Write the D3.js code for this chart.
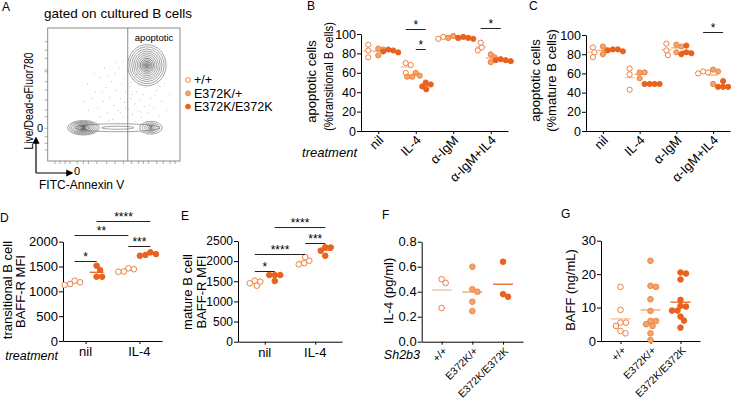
<!DOCTYPE html>
<html>
<head>
<meta charset="utf-8">
<script src="https://cdn.jsdelivr.net/npm/d3@7"></script>
<style>
  body { margin: 0; background: #fff; }
  svg { font-family: "Liberation Sans", Arial, sans-serif; }
</style>
</head>
<body>
<svg id="fig" width="732" height="400"></svg>
<script>
// ---- data ----
var genotypes = ["+/+", "E372K/+", "E372K/E372K"];
var treat4 = ["nil", "IL-4", "α-IgM", "α-IgM+IL4"];
var treat2 = ["nil", "IL-4"];

// B: % apoptotic transitional B cells, one array per treatment
var bWT  = [[89, 83, 76], [70, 68, 60], [97, 96, 95], [91, 86, 83]];
var bHet = [[85, 84, 78], [60, 57, 56, 56], [98, 96, 96], [79, 76, 71]];
var bHom = [[84, 83, 82, 81], [50, 48, 46, 43], [97, 96, 96, 95], [74, 73, 73, 72]];

// C: % apoptotic mature B cells
var cWT  = [[87, 82, 77], [65, 59, 43], [91, 84, 79], [62, 61, 60]];
var cHet = [[88, 84, 80], [61, 61, 55], [90, 88, 82], [64, 62, 49]];
var cHom = [[85, 85, 84, 83], [49, 49, 49, 49], [89, 82, 81, 80], [52, 46, 46, 46]];

// D: transitional B cell BAFF-R MFI
var dWT  = [[1214, 1182, 1148, 1128], [1465, 1445, 1400, 1395]];
var dHom = [[1517, 1430, 1295, 1295], [1785, 1750, 1732, 1718]];

// E: mature B cell BAFF-R MFI
var eWT  = [[1515, 1490, 1450, 1390], [2100, 2010, 1950, 1920]];
var eHom = [[1656, 1656, 1656, 1507], [2345, 2340, 2260, 2135]];

// F: IL-4 (pg/ml) per genotype
var fVals = [[0.50, 0.47, 0.27], [0.60, 0.42, 0.40, 0.32, 0.245], [0.64, 0.38, 0.36]];

// G: BAFF (ng/mL) per genotype
var gVals = [
  [16.2, 9.3, 5.5, 4.5, 5.5, 2.3, 3.0],
  [24.0, 16.5, 16.2, 12.5, 9.0, 6.0, 6.0, 5.0, 4.5, 2.3, 0.3],
  [20.2, 20.5, 18.4, 12.3, 10.5, 10.3, 9.1, 9.1, 7.3, 6.1, 4.0]
];

// significance bars: [from slot, to slot, y value, label]
var bSig = [[[1, 0], [1, 2], 105, "*"], [[1, 1], [1, 2], 84.5, "*"], [[3, 0], [3, 2], 106.5, "*"]];
var cSig = [[[3, 0], [3, 2], 103, "*"]];
var dSig = [[[0, 0], [0, 1], 1611, "*"], [[0, 0], [1, 0], 2135, "**"], [[0, 1], [1, 1], 2423, "****"], [[1, 0], [1, 1], 1913, "***"]];
var eSig = [[[0, 0], [0, 1], 1763, "*"], [[0, 0], [1, 0], 2185, "****"], [[0, 1], [1, 1], 2855, "****"], [[1, 0], [1, 1], 2451, "***"]];

// A: flow plot (arbitrary 0-100 display units)
var flowClusters = [
  {cx: 75, cy: 72, rx: 14.5, ry: 15.5, n: 13},
  {cx: 27, cy: 25, rx: 12, ry: 5.5, n: 11},
  {cx: 53, cy: 25, rx: 32, ry: 3, n: 2},
  {cx: 78, cy: 25, rx: 8.5, ry: 4.8, n: 6}
];
var flowDots = [[30,58],[33,47],[36,52],[38,40],[40,63],[42,45],[44,55],[45,36],[47,48],[48,60],
  [50,42],[51,66],[52,53],[53,38],[54,70],[55,47],[56,58],[57,33],[58,62],[58,44],[59,52],[60,68],
  [61,39],[62,56],[63,47],[64,35],[65,61],[66,43],[67,52],[68,38],[69,57],[70,46],[71,33],[72,50],
  [73,41],[74,55],[76,36],[78,47],[80,40],[82,53],[84,34],[86,45],[88,58],[90,38],[92,50],[35,66],
  [43,70],[49,31],[57,75],[62,76],[46,30],[66,30],[75,30],[83,60],[39,33],[28,45],[31,38],[52,74],
  [60,45],[64,50],[41,52],[46,64],[55,36],[59,40],[63,59],[67,65],[70,37],[77,42],[81,49],[85,56]];
var flowTicksY = [89.7, 83.3, 77.2, 68.4, 67.1, 59.6, 53.4, 45.9, 38.3, 33.3, 24.6, 18.3, 13.3, 8.3];
var flowTicksX = [5.5, 9.3, 13.1, 16.9, 22.4, 27, 30.8, 37.1, 44.6, 50.9, 57.2, 63.5, 68.5, 72.3, 76.1, 82.4, 87.4, 92.5, 96.3];

// ---- styles ----
var sty = [
  {fill: "#fff", stroke: "#F08040", mean: "#F7BF96"},
  {fill: "#F4A46C", stroke: "#EE8442", mean: "#F4A46C"},
  {fill: "#E8621E", stroke: "#E8621E", mean: "#E8621E"}
];

var svg = d3.select("#fig");

function swarm(vals, y, r) {
  var idx = vals.map(function(v, i) { return i; }).sort(function(a, b) { return vals[b] - vals[a]; });
  var placed = [], off = [];
  idx.forEach(function(i) {
    var py = y(vals[i]);
    for (var k = 0; k < 200; k++) {
      var dx = (k % 2 ? 1 : -1) * Math.ceil(k / 2) * 0.5;
      var ok = placed.every(function(p) {
        return (dx - p[0]) * (dx - p[0]) + (py - p[1]) * (py - p[1]) >= (2 * r * 0.95) * (2 * r * 0.95);
      });
      if (ok) { placed.push([dx, py]); off[i] = dx; break; }
    }
  });
  return off;
}

function vlabel(g, txt, x, y, fs, len) {
  var t = g.append("text")
      .attr("transform", "translate(" + x + "," + y + ") rotate(-90)")
      .attr("text-anchor", "middle")
      .attr("font-size", fs)
      .text(txt);
  if (len) t.attr("textLength", len).attr("lengthAdjust", "spacingAndGlyphs");
}

function panel(o) {
  var x = d3.scalePoint().domain(o.cats).range(o.xr).padding(o.pad);
  var y = d3.scaleLinear().domain(o.ydom).range(o.yr);
  var g = svg.append("g");

  g.append("g")
      .attr("transform", "translate(" + o.xr[0] + ",0)")
      .call(d3.axisLeft(y).tickValues(o.yticks).tickSize(4).tickSizeOuter(0).tickFormat(o.fmt))
      .call(function(a) {
        a.attr("font-family", null).attr("font-size", null);
        a.selectAll("text").attr("font-size", o.tfs).attr("fill", "#000").attr("x", -5);
      });

  g.append("g")
      .attr("transform", "translate(0," + o.yr[0] + ")")
      .call(d3.axisBottom(x).tickSize(3).tickSizeOuter(0).tickFormat(""));

  // category labels
  o.cats.forEach(function(c) {
    if (o.rot) {
      g.append("text")
          .attr("transform", "translate(" + (x(c) + 6) + "," + (o.yr[0] + 10) + ") rotate(-45)")
          .attr("text-anchor", "end")
          .attr("font-size", o.cfs)
          .text(c);
    } else {
      g.append("text")
          .attr("x", x(c)).attr("y", o.yr[0] + 15)
          .attr("text-anchor", "middle")
          .attr("font-size", o.cfs)
          .text(c);
    }
  });

  o.ylab.forEach(function(l) { vlabel(g, l[0], l[1], l[2], o.lfs, l[3]); });

  function slotX(ci, gi) { return x(o.cats[ci]) + o.offs[gi]; }

  // points and means
  o.groups.forEach(function(gr, gi) {
    gr.forEach(function(vals, ci) {
      if (!vals) return;
      var cx = slotX(ci, gi);
      var offs = swarm(vals, y, o.r);
      var s = sty[o.sty[gi]];
      g.append("line")
          .attr("x1", cx - o.mw / 2).attr("x2", cx + o.mw / 2)
          .attr("y1", y(d3.mean(vals))).attr("y2", y(d3.mean(vals)))
          .attr("stroke", s.mean).attr("stroke-width", 1.3);
      g.selectAll(null).data(vals).enter().append("circle")
          .attr("cx", function(d, i) { return cx + offs[i]; })
          .attr("cy", function(d) { return y(d); })
          .attr("r", o.r)
          .attr("fill", s.fill)
          .attr("stroke", s.stroke)
          .attr("stroke-width", 1);
    });
  });

  (o.sig || []).forEach(function(sg) {
    var x1 = slotX(sg[0][0], sg[0][1]), x2 = slotX(sg[1][0], sg[1][1]), yy = Math.round(y(sg[2])) + 0.5;
    g.append("line").attr("x1", x1).attr("x2", x2).attr("y1", yy).attr("y2", yy)
        .attr("stroke", "#222").attr("stroke-width", 1);
    g.append("text").attr("x", (x1 + x2) / 2).attr("y", yy - 1)
        .attr("text-anchor", "middle").attr("font-size", 12).text(sg[3]);
  });
  return {x: x, y: y};
}

// ---- panel A ----
(function() {
  var fx = d3.scaleLinear().domain([0, 100]).range([47.7, 180]);
  var fy = d3.scaleLinear().domain([0, 100]).range([161, 28]);
  var g = svg.append("g");
  g.append("text").attr("x", 118).attr("y", 18).attr("text-anchor", "middle")
      .attr("font-size", 13.5).text("gated on cultured B cells");

  g.selectAll(".dot").data(flowDots).enter().append("circle")
      .attr("cx", function(d) { return fx(d[0]); })
      .attr("cy", function(d) { return fy(d[1]); })
      .attr("r", 0.5).attr("fill", "#aaa");

  flowClusters.forEach(function(c) {
    d3.range(1, c.n + 1).forEach(function(k) {
      var f = Math.pow(k / c.n, 1.4);
      g.append("ellipse")
          .attr("cx", fx(c.cx)).attr("cy", fy(c.cy))
          .attr("rx", (fx(c.cx + c.rx) - fx(c.cx)) * f)
          .attr("ry", (fy(c.cy) - fy(c.cy + c.ry)) * f)
          .attr("fill", "none").attr("stroke", k < c.n / 2 ? "#333" : "#666")
          .attr("stroke-width", 0.6);
    });
  });

  g.append("rect").attr("x", fx(0)).attr("y", fy(100)).attr("width", fx(100) - fx(0)).attr("height", fy(0) - fy(100))
      .attr("fill", "none").attr("stroke", "#8a8a8a");
  g.append("line").attr("x1", fx(60.5)).attr("x2", fx(60.5)).attr("y1", fy(100)).attr("y2", fy(0))
      .attr("stroke", "#8a8a8a");
  g.append("text").attr("x", 154).attr("y", 41).attr("text-anchor", "middle")
      .attr("font-size", 9.5).text("apoptotic");

  g.selectAll(".ty").data(flowTicksY).enter().append("line")
      .attr("x1", fx(0) - 3).attr("x2", fx(0)).attr("y1", function(d) { return fy(d); }).attr("y2", function(d) { return fy(d); })
      .attr("stroke", "#777").attr("stroke-width", 0.6);
  g.selectAll(".tx").data(flowTicksX).enter().append("line")
      .attr("y1", fy(0)).attr("y2", fy(0) + 3).attr("x1", function(d) { return fx(d); }).attr("x2", function(d) { return fx(d); })
      .attr("stroke", "#777").attr("stroke-width", 0.6);

  g.append("text").attr("x", 40).attr("y", 132).attr("text-anchor", "middle").attr("font-size", 11).text("0");
  g.append("text").attr("x", 77).attr("y", 175).attr("text-anchor", "middle").attr("font-size", 11).text("0");

  var defs = svg.append("defs");
  defs.append("marker").attr("id", "arr").attr("viewBox", "0 0 10 10").attr("refX", 8).attr("refY", 5)
      .attr("markerWidth", 6).attr("markerHeight", 6).attr("orient", "auto")
      .append("path").attr("d", "M0,0L10,5L0,10z").attr("fill", "#000");
  g.append("path").attr("d", "M36,173V138").attr("stroke", "#000").attr("stroke-width", 1.2).attr("marker-end", "url(#arr)");
  g.append("path").attr("d", "M36,173H72").attr("stroke", "#000").attr("stroke-width", 1.2).attr("marker-end", "url(#arr)");

  vlabel(g, "Live/Dead-eFluor780", 33, 101, 12, 97);
  g.append("text").attr("x", 39).attr("y", 189).attr("font-size", 12).text("FITC-Annexin V");

  // legend
  genotypes.forEach(function(gn, i) {
    g.append("circle").attr("cx", 188).attr("cy", 80 + i * 13.3).attr("r", 2.4)
        .attr("fill", sty[i].fill).attr("stroke", sty[i].stroke);
    g.append("text").attr("x", 194).attr("y", 80 + i * 13.3).attr("dy", "0.35em")
        .attr("font-size", 12.5).text(gn);
  });
})();

// ---- panel B ----
panel({cats: treat4, xr: [361, 508], pad: 0.46, ydom: [0, 100], yr: [131, 34], yticks: [0, 20, 40, 60, 80, 100],
  fmt: d3.format("d"), tfs: 12.5, cfs: 13, rot: true, lfs: 13,
  ylab: [["apoptotic cells", 315.5, 81.5], ["(%transitional B cells)", 332.5, 76.5, 109]],
  groups: [bWT, bHet, bHom], sty: [0, 1, 2], offs: [-10, 0, 10], r: 2.6, mw: 10, sig: bSig});

// ---- panel C ----
panel({cats: treat4, xr: [586, 730], pad: 0.46, ydom: [0, 100], yr: [131, 35], yticks: [0, 20, 40, 60, 80, 100],
  fmt: d3.format("d"), tfs: 12.5, cfs: 13, rot: true, lfs: 13,
  ylab: [["apoptotic cells", 539.5, 80.5], ["(%mature B cells)", 555.5, 80.5]],
  groups: [cWT, cHet, cHom], sty: [0, 1, 2], offs: [-10, 0, 10], r: 2.6, mw: 10, sig: cSig});

// ---- panel D ----
panel({cats: treat2, xr: [63, 162], pad: 0.42, ydom: [0, 2000], yr: [341, 241.7], yticks: [0, 500, 1000, 1500, 2000],
  fmt: d3.format("d"), tfs: 13, cfs: 13, rot: false, lfs: 13,
  ylab: [["transitional B cell", 12, 290], ["BAFF-R MFI", 25, 291.5]],
  groups: [dWT, dHom], sty: [0, 2], offs: [-11, 11], r: 2.8, mw: 14, sig: dSig});

// ---- panel E ----
panel({cats: treat2, xr: [238, 342], pad: 0.53, ydom: [0, 2500], yr: [341.7, 241], yticks: [0, 500, 1000, 1500, 2000, 2500],
  fmt: d3.format("d"), tfs: 12, cfs: 13, rot: false, lfs: 13,
  ylab: [["mature B cell", 192, 292], ["BAFF-R MFI", 205.5, 292]],
  groups: [eWT, eHom], sty: [0, 2], offs: [-10, 10], r: 2.8, mw: 14, sig: eSig});

// ---- panel F ----
panel({cats: genotypes, xr: [421.7, 523], pad: 0.65, ydom: [0, 0.8], yr: [341.7, 241.7], yticks: [0, 0.2, 0.4, 0.6, 0.8],
  fmt: d3.format(".1f"), tfs: 13, cfs: 10.5, rot: true, lfs: 13,
  ylab: [["IL-4 (pg/ml)", 392.5, 291]],
  groups: [[fVals[0], null, null], [null, fVals[1], null], [null, null, fVals[2]]], sty: [0, 1, 2], offs: [0, 0, 0], r: 2.8, mw: 20});

// ---- panel G ----
panel({cats: genotypes, xr: [601, 700], pad: 0.65, ydom: [0, 30], yr: [341, 240.7], yticks: [0, 10, 20, 30],
  fmt: d3.format("d"), tfs: 13, cfs: 10.5, rot: true, lfs: 13,
  ylab: [["BAFF (ng/mL)", 574.5, 290]],
  groups: [[gVals[0], null, null], [null, gVals[1], null], [null, null, gVals[2]]], sty: [0, 1, 2], offs: [0, 0, 0], r: 2.8, mw: 20});

// treatment / genotype row labels and panel letters
svg.append("text").attr("x", 357).attr("y", 157).attr("text-anchor", "end").attr("font-size", 13)
    .attr("font-style", "italic").text("treatment");
svg.append("text").attr("x", 58).attr("y", 360).attr("text-anchor", "end").attr("font-size", 12.5)
    .attr("font-style", "italic").text("treatment");
svg.append("text").attr("x", 420).attr("y", 359).attr("text-anchor", "end").attr("font-size", 12.5)
    .attr("font-style", "italic").text("Sh2b3");

[["A", 2, 11], ["B", 307, 10], ["C", 529, 10], ["D", 0, 222], ["E", 181, 220], ["F", 382, 219], ["G", 561, 218]]
  .forEach(function(l) {
    svg.append("text").attr("x", l[1]).attr("y", l[2]).attr("font-size", 12).text(l[0]);
  });
</script>
</body>
</html>
